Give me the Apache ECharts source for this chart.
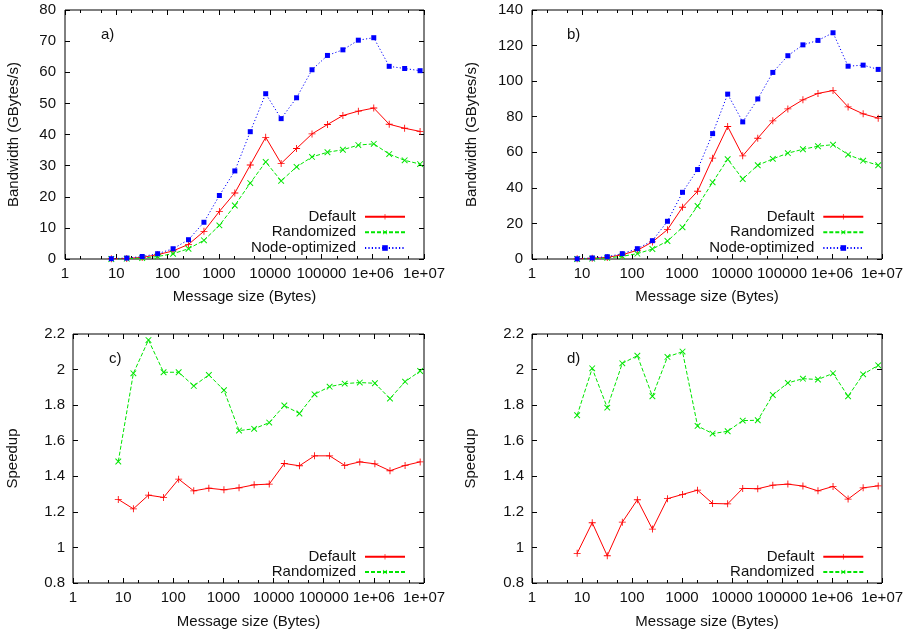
<!DOCTYPE html>
<html><head><meta charset="utf-8">
<script src="https://cdn.jsdelivr.net/npm/echarts@6/dist/echarts.min.js"></script>
<style>html,body{margin:0;padding:0;background:#fff}#c{width:910px;height:633px}</style>
</head><body><div id="c"></div>
<script>
// ---- data ----
const sizes = [8,16,32,64,128,256,512,1024,2048,4096,8192,16384,32768,65536,131072,262144,524288,1048576,2097152,4194304,8388608];
const xMajorTicks = [1,10,100,1000,10000,100000,1000000,10000000];
const xMinorTicks = [2,5,20,50,200,500,2000,5000,20000,50000,200000,500000,2000000,5000000];
const xTickLabels = ['1','10','100','1000','10000','100000','1e+06','1e+07'];

const aDefault    = [0.1,0.2,0.5,1.4,2.6,4.7,8.9,15.3,21.2,30.2,39.1,30.7,35.5,40.2,43.2,46.1,47.5,48.5,43.3,42.0,41.0];
const aRandomized = [0.0,0.1,0.3,0.8,1.7,3.3,6.0,10.8,17.2,24.4,31.2,25.1,29.6,32.8,34.3,35.1,36.6,37.0,33.7,31.7,30.5];
const aNodeOpt    = [0.1,0.3,0.8,1.7,3.3,6.2,11.8,20.4,28.3,40.9,53.1,45.1,51.8,60.8,65.4,67.2,70.3,71.1,61.9,61.2,60.5];

const bDefault    = [0.1,0.4,0.9,2.4,4.9,9.6,16.5,29.1,38.1,56.7,74.5,58.0,67.9,77.7,84.4,89.5,93.1,94.7,85.5,81.6,79.2];
const bRandomized = [0.0,0.2,0.6,1.5,3.0,5.6,10.1,17.8,29.8,43.1,56.1,45.0,52.7,56.3,59.5,61.7,63.4,64.3,58.7,55.3,52.7];
const bNodeOpt    = [0.1,0.6,1.3,3.0,5.8,10.3,21.2,37.5,50.3,70.5,92.7,77.1,90.0,104.9,114.3,120.4,122.9,127.2,108.4,109.0,106.6];

const cDefault    = [1.270,1.217,1.294,1.281,1.384,1.318,1.333,1.324,1.335,1.352,1.356,1.472,1.459,1.515,1.515,1.461,1.481,1.470,1.431,1.461,1.481];
const cRandomized = [1.483,1.979,2.166,1.985,1.985,1.908,1.970,1.884,1.657,1.667,1.702,1.798,1.753,1.861,1.904,1.921,1.927,1.923,1.837,1.932,1.992];

const dDefault    = [0.967,1.139,0.953,1.142,1.268,1.103,1.274,1.298,1.322,1.247,1.245,1.332,1.330,1.350,1.356,1.345,1.318,1.343,1.272,1.335,1.346];
const dRandomized = [1.743,2.007,1.786,2.035,2.078,1.850,2.071,2.101,1.683,1.640,1.653,1.713,1.715,1.857,1.925,1.949,1.944,1.979,1.850,1.973,2.024];

// ---- layout / style ----
const FONT = '"Liberation Sans", Arial, Helvetica, sans-serif';
const TXT = '#111';
const FS = 15;
const grids = [
  {left:65,  top:10,  width:359, height:249},
  {left:532, top:10,  width:350, height:249},
  {left:73,  top:334, width:351, height:249},
  {left:532, top:334, width:350, height:249}
];
const yCfg = [
  {min:0, max:80, interval:10, name:'Bandwidth (GBytes/s)', gap:44, margin:9},
  {min:0, max:140, interval:20, name:'Bandwidth (GBytes/s)', gap:53, margin:9},
  {min:0.8, max:2.2, interval:0.2, name:'Speedup', gap:53, margin:8},
  {min:0.8, max:2.2, interval:0.2, name:'Speedup', gap:54, margin:8}
];
const xNameGap = [30, 30, 31, 31];

const PLUS = 'path://M4.4,0H5.6V4.4H10V5.6H5.6V10H4.4V5.6H0V4.4H4.4Z';
const styles = {
  'Default':        {color:'#ff0000', type:'solid', symbol:PLUS, size:7, rotate:0},
  'Randomized':     {color:'#00e600', type:[4,2], symbol:PLUS, size:8, rotate:45},
  'Node-optimized': {color:'#0000ff', type:[1.2,2.2], symbol:'rect', size:5, rotate:0}
};

const panels = [
  {label:'a)', series:[['Default',aDefault],['Randomized',aRandomized],['Node-optimized',aNodeOpt]]},
  {label:'b)', series:[['Default',bDefault],['Randomized',bRandomized],['Node-optimized',bNodeOpt]]},
  {label:'c)', series:[['Default',cDefault],['Randomized',cRandomized]]},
  {label:'d)', series:[['Default',dDefault],['Randomized',dRandomized]]}
];
const labelPos = [[101,35],[567,35],[109,359],[567,359]];
const legendRows = [[216.7,232.3,248],[216.7,232.3,248],[556.7,572],[556.7,572]];
const legendLineEnd = [406, 864.3, 406, 864.3];

const xAxis = [], yAxis = [], series = [], legend = [], graphic = [];
const fmtX = v => {
  const e = Math.round(Math.log10(v));
  return e >= 6 ? '1e+0' + e : String(Math.round(v));
};

grids.forEach((g, gi) => {
  const base = {type:'log', logBase:10, min:1, max:10000000, gridIndex:gi,
    axisLine:{show:false, onZero:false}, splitLine:{show:false}, minorTick:{show:false}};
  xAxis.push(Object.assign({}, base, {
    position:'bottom',
    axisTick:{show:true, inside:true, length:5, customValues:xMajorTicks, lineStyle:{color:'#000', width:1}},
    axisLabel:{show:true, customValues:xMajorTicks, formatter:fmtX, fontSize:FS, color:TXT, fontFamily:FONT, margin:7},
    name:'Message size (Bytes)', nameLocation:'middle', nameGap:xNameGap[gi],
    nameTextStyle:{fontSize:FS, color:TXT, fontFamily:FONT}
  }));
  xAxis.push(Object.assign({}, base, {
    position:'bottom',
    axisTick:{show:true, inside:true, length:3, customValues:xMinorTicks, lineStyle:{color:'#000', width:1}},
    axisLabel:{show:false}
  }));
  xAxis.push(Object.assign({}, base, {
    position:'top',
    axisTick:{show:true, inside:true, length:5, customValues:xMajorTicks, lineStyle:{color:'#000', width:1}},
    axisLabel:{show:false}
  }));
  xAxis.push(Object.assign({}, base, {
    position:'top',
    axisTick:{show:true, inside:true, length:3, customValues:xMinorTicks, lineStyle:{color:'#000', width:1}},
    axisLabel:{show:false}
  }));

  const yc = yCfg[gi];
  const ybase = {type:'value', min:yc.min, max:yc.max, interval:yc.interval, gridIndex:gi,
    axisLine:{show:false, onZero:false}, splitLine:{show:false},
    axisTick:{show:true, inside:true, length:5, lineStyle:{color:'#000', width:1}}};
  yAxis.push(Object.assign({}, ybase, {
    position:'left',
    axisLabel:{show:true, fontSize:FS, color:TXT, fontFamily:FONT, margin:yc.margin},
    name:yc.name, nameLocation:'middle', nameGap:yc.gap,
    nameTextStyle:{fontSize:FS, color:TXT, fontFamily:FONT}
  }));
  yAxis.push(Object.assign({}, ybase, {position:'right', axisLabel:{show:false}}));

  const p = panels[gi];
  p.series.forEach(([name, vals], si) => {
    const st = styles[name];
    series.push({
      type:'line', name, xAxisIndex:gi*4, yAxisIndex:gi*2,
      data: sizes.map((s, i) => [s, vals[i]]),
      symbol:st.symbol, symbolSize:st.size, symbolRotate:st.rotate, showAllSymbol:true,
      lineStyle:{color:st.color, width:1, type:st.type},
      itemStyle:{color:st.color},
      emphasis:{disabled:true}, animation:false
    });
    const rowY = legendRows[gi][si];
    legend.push({
      data:[name], orient:'horizontal', align:'right', padding:0,
      right: 910 - legendLineEnd[gi], top: rowY - 7.5,
      itemWidth:40, itemHeight:7, selectedMode:false,
      textStyle:{fontSize:FS, color:TXT, fontFamily:FONT, lineHeight:15, padding:[0,4,0,0]}
    });
  });

  graphic.push({type:'text', x:labelPos[gi][0], y:labelPos[gi][1],
    style:{text:p.label, fontSize:FS, fill:TXT, fontFamily:FONT, verticalAlign:'middle'}});
});

const chart = echarts.init(document.getElementById('c'), null, {renderer:'canvas'});
chart.setOption({
  backgroundColor:'#fff',
  animation:false,
  grid: grids.map(g => Object.assign({show:true, borderColor:'#000', borderWidth:1, backgroundColor:'transparent', containLabel:false}, g)),
  xAxis, yAxis, series, legend, graphic
});
</script></body></html>
